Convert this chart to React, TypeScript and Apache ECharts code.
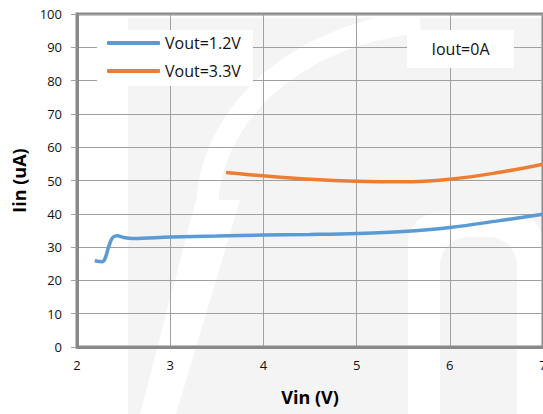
import React, { useEffect, useRef } from "react";
import * as echarts from "echarts";

const xTicks = [2, 3, 4, 5, 6, 7];
const yTicks = [0, 10, 20, 30, 40, 50, 60, 70, 80, 90, 100];

const seriesNames = ["Vout=1.2V", "Vout=3.3V"];

const vinBlue = [2.19, 2.27, 2.3, 2.34, 2.38, 2.43, 2.5, 2.6, 3, 3.5, 4, 4.5, 5, 5.5, 6, 6.5, 7];
const iinBlue = [25.9, 25.6, 26.5, 30.1, 32.8, 33.4, 32.9, 32.6, 33.0, 33.3, 33.6, 33.8, 34.1, 34.7, 35.9, 37.8, 39.9];

const vinOrange = [3.6, 4, 4.5, 5, 5.5, 6, 6.5, 7];
const iinOrange = [52.4, 51.4, 50.4, 49.8, 49.6, 50.4, 52.3, 54.9];

const noteText = "Iout=0A";

const FONT = "'Open Sans', 'Liberation Sans', sans-serif";

export default function App() {
  const ref = useRef<HTMLDivElement>(null);

  useEffect(() => {
    if (!ref.current) return;
    const chart = echarts.init(ref.current, undefined, { renderer: "svg" });
    const axisGray = "#898989";
    const gridGray = "#a0a0a0";
    const wm = "#f4f4f4";
    const option: any = {
      animation: false,
      backgroundColor: "#ffffff",
      grid: {
        left: 77,
        top: 14,
        right: 0,
        bottom: 67,
        show: true,
        borderColor: axisGray,
        borderWidth: 3,
        backgroundColor: "transparent",
        outerBoundsMode: "none",
      },
      graphic: [
        { type: "rect", z: -10, shape: { x: 128, y: 18, width: 415, height: 396 }, style: { fill: wm } },
        {
          type: "bezierCurve",
          z: -9,
          shape: { x1: 420, y1: 22, cpx1: 290, cpy1: 35, cpx2: 205, cpy2: 120, x2: 207, y2: 215 },
          style: { stroke: "#ffffff", lineWidth: 22, fill: "none" },
        },
        {
          type: "polygon",
          z: -9,
          shape: { points: [[196, 200], [240, 200], [176, 414], [140, 414]] },
          style: { fill: "#ffffff" },
        },
        {
          type: "rect",
          z: -9,
          shape: { x: 408, y: 213, width: 135, height: 201, r: [30, 30, 0, 0] },
          style: { fill: "#ffffff" },
        },
        {
          type: "rect",
          z: -8,
          shape: { x: 440, y: 237, width: 77, height: 177, r: [28, 28, 0, 0] },
          style: { fill: wm },
        },
        {
          type: "rect",
          z: 5,
          shape: { x: 407, y: 30, width: 107, height: 38 },
          style: { fill: "#ffffff" },
        },
        {
          type: "text",
          z: 6,
          x: 460.5,
          y: 49,
          style: {
            text: noteText,
            fill: "#111111",
            font: `16px ${FONT}`,
            fontFamily: FONT,
            fontSize: 16,
            align: "center",
            verticalAlign: "middle",
          },
        },
      ],
      legend: {
        orient: "vertical",
        left: 97,
        top: 30,
        backgroundColor: "#ffffff",
        padding: [3, 12, 5, 10],
        itemGap: 8,
        itemWidth: 53,
        itemHeight: 4,
        icon: "roundRect",
        textStyle: { fontSize: 16, fontFamily: FONT, color: "#111111", lineHeight: 20 },
        data: seriesNames,
      },
      xAxis: {
        type: "value",
        min: xTicks[0],
        max: xTicks[xTicks.length - 1],
        interval: 1,
        name: "Vin (V)",
        nameLocation: "middle",
        nameGap: 41,
        nameTextStyle: { fontSize: 18, fontWeight: "bold", fontFamily: FONT, color: "#000000" },
        axisLine: { show: true, lineStyle: { color: axisGray, width: 3 } },
        axisTick: { show: false },
        axisLabel: { margin: 11, fontSize: 13, fontFamily: FONT, color: "#111111" },
        splitLine: { show: true, lineStyle: { color: gridGray, width: 1 } },
      },
      yAxis: {
        type: "value",
        min: yTicks[0],
        max: yTicks[yTicks.length - 1],
        interval: 10,
        name: "Iin (uA)",
        nameLocation: "middle",
        nameGap: 49,
        nameTextStyle: { fontSize: 18, fontWeight: "bold", fontFamily: FONT, color: "#000000" },
        axisLine: { show: true, lineStyle: { color: axisGray, width: 3 } },
        axisTick: { show: true, length: 6, lineStyle: { color: gridGray, width: 1 } },
        axisLabel: { margin: 15, fontSize: 13, fontFamily: FONT, color: "#111111" },
        splitLine: { show: true, lineStyle: { color: gridGray, width: 1 } },
      },
      series: [
        {
          name: seriesNames[0],
          type: "line",
          data: vinBlue.map((v, i) => [v, iinBlue[i]]),
          showSymbol: false,
          smooth: 0.35,
          color: "#5b9bd5",
          lineStyle: { color: "#5b9bd5", width: 3.5 },
          z: 3,
        },
        {
          name: seriesNames[1],
          type: "line",
          data: vinOrange.map((v, i) => [v, iinOrange[i]]),
          showSymbol: false,
          smooth: 0.4,
          color: "#ed7d31",
          lineStyle: { color: "#ed7d31", width: 3.5 },
          z: 3,
        },
      ],
    };
    chart.setOption(option);
    return () => chart.dispose();
  }, []);

  return (
    <div
      ref={ref}
      style={{ position: "fixed", left: 0, top: 0, width: 543, height: 414 }}
    />
  );
}
